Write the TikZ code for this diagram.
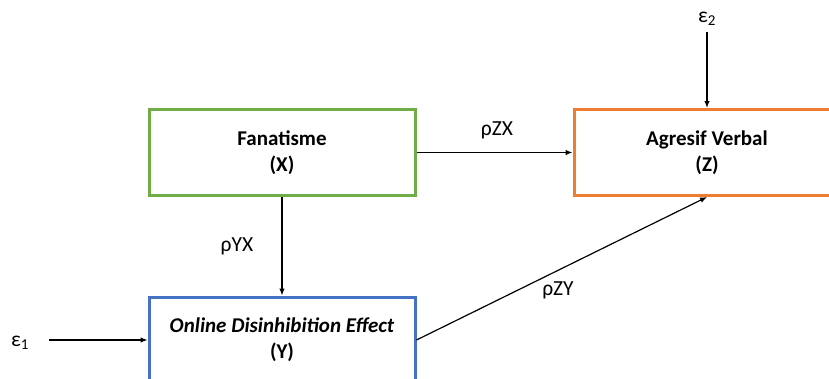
\documentclass[tikz,border=0pt]{standalone}
\usepackage{fontspec}
\setmainfont{Carlito}
\usetikzlibrary{arrows.meta}
\definecolor{cgreen}{RGB}{112,173,71}
\definecolor{corange}{RGB}{237,125,49}
\definecolor{cblue}{RGB}{68,114,196}
\begin{document}
\begin{tikzpicture}[x=1pt,y=-1pt,
  varbox/.style={draw, line width=3pt, minimum width=266pt, minimum height=86pt, inner sep=0pt, align=center, font=\fontsize{21}{26}\selectfont\bfseries},
  arr/.style={line width=1.2pt, -{Latex[length=7pt,width=5.5pt]}},
  lbl/.style={font=\fontsize{21.5}{25}\selectfont, inner sep=0pt}]
\useasboundingbox (0,0) rectangle (829,378);
\clip (0,0) rectangle (829,378);
\fill[white] (0,0) rectangle (829,378);
\node[varbox, cgreen] (X) at (282,152.5) {\color{black}Fanatisme\\\color{black}(X)};
\node[varbox, corange] (Z) at (707,152.5) {\color{black}Agresif Verbal\\\color{black}(Z)};
\node[varbox, cblue] (Y) at (282,340) {\color{black}\itshape Online Disinhibition Effect\\\color{black}(Y)};
\node[lbl] (e1) at (20,343) {ε\textsubscript{1}};
\node[lbl] (e2) at (707,19) {ε\textsubscript{2}};
\draw[arr] (X.east) -- (Z.west);
\draw[arr] (X.south) -- (Y.north);
\draw[arr] (Y.east) -- (Z.south);
\draw[arr, shorten <=20pt] (e1.east |- Y.west) -- (Y.west);
\draw[arr, shorten <=6pt] (e2.south) -- (Z.north);
\node[lbl] (lzx) at (497,130) {ρZX};
\node[lbl] (lyx) at (237,246) {ρYX};
\node[lbl] (lzy) at (558,290) {ρZY};
\end{tikzpicture}
\end{document}
